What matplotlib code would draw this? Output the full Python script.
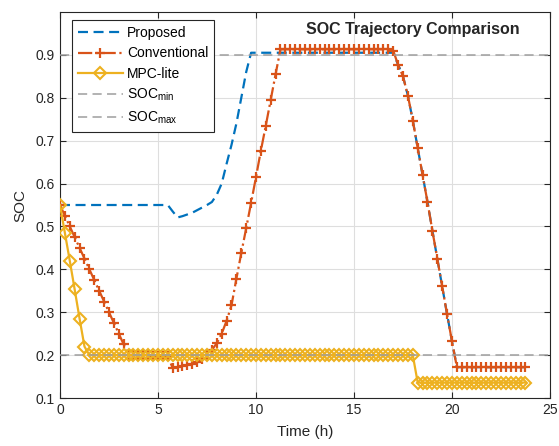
import numpy as np
import matplotlib
matplotlib.use('Agg')
import matplotlib.pyplot as plt

plt.rcParams['font.family'] = ['Liberation Sans', 'DejaVu Sans']
plt.rcParams['mathtext.fontset'] = 'custom'
plt.rcParams['mathtext.rm'] = 'Liberation Sans'
plt.rcParams['mathtext.it'] = 'Liberation Sans:italic'

# time axis, 15-min steps (h)
time_h = np.arange(0, 24, 0.25)

# SOC values
soc_proposed = ([0.55] * 23
                + [0.535, 0.521, 0.524, 0.528, 0.532, 0.538, 0.544, 0.55, 0.557,
                   0.574, 0.60, 0.646, 0.69, 0.74, 0.80, 0.86]
                + [0.905] * 30
                + [0.877, 0.85, 0.805, 0.747, 0.683, 0.62, 0.557, 0.49,
                   0.425, 0.36, 0.295, 0.232]
                + [0.172] * 15)

soc_conventional = ([0.55, 0.525, 0.50, 0.475, 0.45, 0.425, 0.40, 0.375, 0.35,
                     0.325, 0.30, 0.275, 0.25, 0.225, 0.20]
                    + [0.20, 0.20, 0.20, 0.20, 0.199, 0.199, 0.198, 0.197]
                    + [0.17, 0.172, 0.175, 0.177, 0.18, 0.183, 0.19, 0.20, 0.212,
                       0.228, 0.25, 0.28, 0.316, 0.378, 0.438, 0.496, 0.555,
                       0.615, 0.677, 0.735, 0.795, 0.855]
                    + [0.913] * 23
                    + [0.91, 0.877, 0.85, 0.805, 0.747, 0.683, 0.62, 0.557, 0.49,
                       0.425, 0.36, 0.295, 0.232]
                    + [0.172] * 15)

soc_mpc = ([0.55, 0.485, 0.42, 0.353, 0.285, 0.22]
           + [0.20] * 67
           + [0.136] * 23)

soc_min = 0.2
soc_max = 0.9

BLUE = '#0072BD'
ORANGE = '#D95319'
YELLOW = '#EDB120'
GRAY = '#9E9E9E'
DARK = '#262626'

fig = plt.figure(figsize=(5.59, 4.46), dpi=100)
ax = fig.add_axes([0.1073, 0.1076, 0.8766, 0.8655])

# drawing order as in the original: later series on top
ax.plot(time_h, soc_proposed, color=BLUE, linewidth=1.6, dashes=(4.5, 2.5),
        label='Proposed', zorder=2)
ax.plot(time_h, soc_conventional, color=ORANGE, linewidth=1.6, linestyle='-.',
        marker='+', markersize=7, markeredgewidth=1.6, label='Conventional', zorder=3)
ax.plot(time_h, soc_mpc, color=YELLOW, linewidth=1.6, marker='D', markersize=6.3,
        markerfacecolor='none', markeredgewidth=1.5, label='MPC-lite', zorder=4)
ax.axhline(soc_min, color=GRAY, linewidth=1.1, dashes=(6, 3.5),
           label='SOC$_{\\mathrm{min}}$', zorder=5)
ax.axhline(soc_max, color=GRAY, linewidth=1.1, dashes=(6, 3.5),
           label='SOC$_{\\mathrm{max}}$', zorder=5)

ax.set_xlim(0, 25)
ax.set_ylim(0.1, 1.0)
ax.set_xticks([0, 5, 10, 15, 20, 25])
ax.set_yticks([0.1, 0.2, 0.3, 0.4, 0.5, 0.6, 0.7, 0.8, 0.9])
ax.set_yticklabels(['0.1', '0.2', '0.3', '0.4', '0.5', '0.6', '0.7', '0.8', '0.9'])

ax.grid(True, color='#DEDEDE', linewidth=0.8)
ax.set_axisbelow(True)
ax.tick_params(direction='in', length=4, width=0.8, colors=DARK, labelsize=10,
               top=True, right=True)
for sp in ax.spines.values():
    sp.set_color(DARK)
    sp.set_linewidth(0.8)

ax.set_xlabel('Time (h)', fontsize=11, color=DARK, labelpad=6)
ax.set_ylabel('SOC', fontsize=11, color=DARK, labelpad=6)

ax.text(0.72, 0.955, 'SOC Trajectory Comparison', transform=ax.transAxes,
        ha='center', va='center', fontsize=11.5, fontweight='bold', color=DARK)

leg = ax.legend(loc='upper left', bbox_to_anchor=(12 / 490, 1 - 8 / 386),
                borderaxespad=0, fontsize=10, handlelength=3.2, handletextpad=0.3,
                labelspacing=0.45, borderpad=0.45, fancybox=False, numpoints=1,
                framealpha=1)
leg.get_frame().set_edgecolor(DARK)
leg.get_frame().set_linewidth(0.8)
leg.set_zorder(10)

plt.savefig('out.png', dpi=100)
